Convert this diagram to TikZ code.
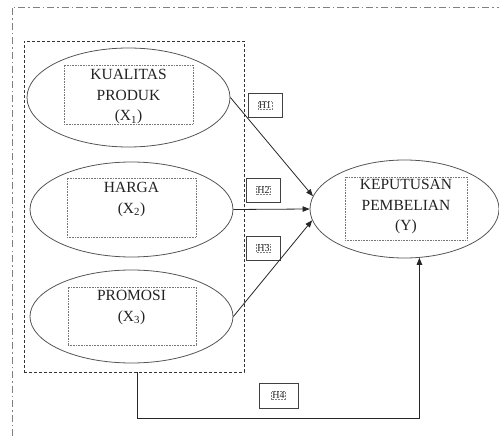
\documentclass[tikz,border=0pt]{standalone}
\usepackage{fontspec}
\setmainfont{Liberation Serif}
\usetikzlibrary{shapes.geometric,arrows.meta}
\definecolor{txt}{HTML}{222222}
\definecolor{ell}{HTML}{555555}
\tikzset{
  var/.style={ellipse, draw=ell, line width=0.8pt, inner sep=0pt},
  ibox/.style={draw=ell!80, densely dotted, line width=0.6pt, inner sep=0pt},
  vtext/.style={text=txt, font=\fontsize{15.5}{20.5}\selectfont, align=center, inner sep=0pt},
  hbox/.style={draw=black!75, line width=0.8pt, minimum width=34pt, minimum height=24pt, inner sep=0pt},
  htext/.style={draw=gray, densely dotted, line width=0.5pt, inner sep=0.8pt, text=txt, font=\fontsize{10}{11}\selectfont},
  conn/.style={draw=black!85, line width=0.8pt, -{Triangle[length=7pt,width=5.5pt]}},
}
\begin{document}
\begin{tikzpicture}[x=1pt,y=-1pt]
\useasboundingbox (0,0) rectangle (499,436);
% outer dash-dot frame
\draw[gray, line width=0.9pt, dash pattern=on 7pt off 3pt on 1.5pt off 3pt] (12,436) -- (12,7) -- (499,7);
% group box
\node[draw=black!80, line width=0.8pt, dash pattern=on 3pt off 2pt, minimum width=220pt, minimum height=331pt, inner sep=0pt] (grp) at (134,206.5) {};
% ellipses
\node[var, minimum width=203pt, minimum height=99pt] (e1) at (128.5,97.5) {};
\node[var, minimum width=203pt, minimum height=95pt] (e2) at (131.5,209.5) {};
\node[var, minimum width=203pt, minimum height=93pt] (e3) at (131.5,316.5) {};
\node[var, minimum width=189pt, minimum height=98pt] (ey) at (404.5,209) {};
% inner dotted boxes
\node[ibox, minimum width=129pt, minimum height=59pt] (b1) at (128.5,94.5) {};
\node[ibox, minimum width=129pt, minimum height=59pt] (b2) at (131.5,207.5) {};
\node[ibox, minimum width=128pt, minimum height=58pt] (b3) at (132,316) {};
\node[ibox, minimum width=122pt, minimum height=63pt] (by) at (406,208.5) {};
% texts
\node[vtext] (t1) at (128.5,97) {KUALITAS\\PRODUK\\(X\textsubscript{1})};
\node[vtext] (t2) at (131.5,199.5) {HARGA\\(X\textsubscript{2})};
\node[vtext] (t3) at (131.5,307.5) {PROMOSI\\(X\textsubscript{3})};
\node[vtext] (ty) at (406,207) {KEPUTUSAN\\PEMBELIAN\\(Y)};
% H boxes
\node[hbox] (h1) at (265,105.5) {};
\node[hbox] (h2) at (263.5,190) {};
\node[hbox] (h3) at (263.5,248) {};
\node[hbox, minimum width=39pt, minimum height=25pt] (h4) at (278.5,395.5) {};
\node[htext] at (h1) {H1};
\node[htext] at (h2) {H2};
\node[htext] at (h3) {H3};
\node[htext] at (h4) {H4};
% connectors
\draw[conn] (e1.east) -- (ey.172);
\draw[conn] (e2.east) -- (ey.180);
\draw[conn] (e3.east) -- (ey.187);
\draw[conn] ([xshift=3pt]grp.south) -- ++(0,46) -| (ey.-73);
\end{tikzpicture}
\end{document}
